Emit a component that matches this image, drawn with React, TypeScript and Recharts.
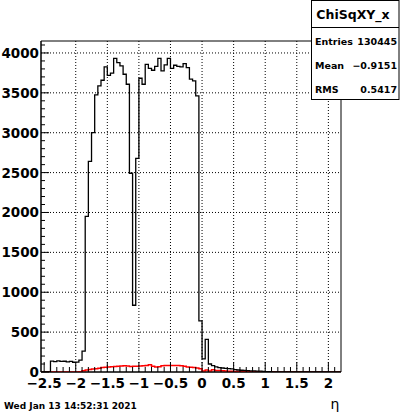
import { ComposedChart, Line, XAxis, YAxis, ReferenceLine, ReferenceArea } from "recharts";

// histogram ChiSqXY_x, 0.05 wide bins starting at -2.55
const xMin = -2.55;
const xMax = 2.2;
const binWidth = 0.05;
const yMax = 4150;

const blackCounts = [
  0, 0, 0,
  137, 129, 140, 132, 135, 128, 132, 122, 125, 150,
  262,
  1950, 2642, 3000, 3475, 3587, 3658, 3825, 3720, 3746, 3933, 3879, 3837, 3733, 3608,
  2492, 837, 2679,
  3683, 3608, 3858, 3808, 3783, 3833, 3933, 3775, 3850, 3933, 3808, 3846, 3833, 3825, 3866, 3816, 3671, 3650, 3462,
  642, 165, 408,
  100, 80, 65, 55, 50, 45, 42, 38, 30, 25, 22, 20, 18, 15, 15, 12, 10, 8, 5, 3, 2, 1,
  0, 0, 0, 0, 0, 0, 0, 0, 0, 0, 0, 0, 0, 0, 0, 0, 0, 0, 0, 0,
];

const redCounts = [
  0, 0, 0, 0, 0, 0, 0, 0, 0, 0, 0, 0,
  3,
  17, 25, 30, 37, 42, 46, 55, 58, 62, 65, 68, 71, 75, 79, 75, 70, 71, 72,
  74, 78, 83, 92, 71, 62, 65, 79, 83, 83, 82, 83, 80, 78, 72, 62, 60, 55, 50, 40,
  12, 25, 12, 29, 20, 18, 15, 12, 10, 8, 6, 5,
  4, 4, 3, 3, 3, 3, 2, 2, 2, 2, 2, 1,
  0, 0, 0, 0, 0, 0, 0, 0, 0, 0, 0, 0, 0, 0, 0, 0, 0, 0, 0, 0,
];

const xMajor = [-2.5, -2, -1.5, -1, -0.5, 0, 0.5, 1, 1.5, 2];
const xLabels = ["\u22122.5", "\u22122", "\u22121.5", "\u22121", "\u22120.5", "0", "0.5", "1", "1.5", "2"];
const xGrid = [-2, -1.5, -1, -0.5, 0, 0.5, 1, 1.5, 2];

const yMajor = [0, 500, 1000, 1500, 2000, 2500, 3000, 3500, 4000];
const yLabels = ["0", "500", "1000", "1500", "2000", "2500", "3000", "3500", "4000"];

const stats = [
  { name: "Entries", value: "130445" },
  { name: "Mean", value: "\u22120.9151" },
  { name: "RMS", value: "0.5417" },
];

const edges = blackCounts.map((_, i) => +(xMin + i * binWidth).toFixed(2));
const data = edges.map((x, i) => ({ x, black: blackCounts[i], red: redCounts[i] }));
data.push({ x: xMax, black: blackCounts[blackCounts.length - 1], red: redCounts[redCounts.length - 1] });

const xTicks: number[] = [];
for (let k = -25; k <= 21; k++) xTicks.push(k / 10);
const yTicks: number[] = [];
for (let k = 0; k <= 41; k++) yTicks.push(k * 100);

const font = "'DejaVu Sans', sans-serif";

const XTick = (props: any) => {
  const { x, y, payload } = props;
  const idx = xMajor.findIndex((m) => Math.abs(m - payload.value) < 1e-6);
  const major = idx >= 0;
  return (
    <g>
      <line x1={x} x2={x} y1={y} y2={y - (major ? 10 : 5)} stroke="#000" />
      {major && (
        <text x={x} y={y + 16} textAnchor="middle" fontFamily={font} fontWeight="bold" fontSize={13.5} fill="#000">
          {xLabels[idx]}
        </text>
      )}
    </g>
  );
};

const YTick = (props: any) => {
  const { x, y, payload } = props;
  const idx = yMajor.indexOf(payload.value);
  const major = idx >= 0;
  return (
    <g>
      <line x1={x} x2={x + (major ? 8 : 4)} y1={y} y2={y} stroke="#000" />
      {major && (
        <text x={x - 2} y={y + 5} textAnchor="end" fontFamily={font} fontWeight="bold" fontSize={13.5} fill="#000">
          {yLabels[idx]}
        </text>
      )}
    </g>
  );
};

export default function App() {
  return (
    <div style={{ position: "absolute", left: 0, top: 0, width: 400, height: 414, background: "#fff" }}>
      <ComposedChart width={400} height={414} data={data} margin={{ top: 41, right: 59, bottom: 0, left: 0 }}>
        {xGrid.map((g) => (
          <ReferenceLine key={"vx" + g} x={g} stroke="#000" strokeDasharray="1 2" />
        ))}
        {yMajor.slice(1).map((g) => (
          <ReferenceLine key={"hy" + g} y={g} stroke="#000" strokeDasharray="1 2" />
        ))}
        <ReferenceArea x1={xMin} x2={xMax} y1={0} y2={yMax} fill="none" stroke="#000" fillOpacity={0} />
        <XAxis
          dataKey="x"
          type="number"
          domain={[xMin, xMax]}
          ticks={xTicks}
          interval={0}
          height={42}
          tickSize={0}
          tickMargin={0}
          tickLine={false}
          axisLine={{ stroke: "#000" }}
          tick={<XTick />}
          allowDataOverflow
        />
        <YAxis
          type="number"
          domain={[0, yMax]}
          ticks={yTicks}
          interval={0}
          width={41}
          tickSize={0}
          tickMargin={0}
          tickLine={false}
          axisLine={{ stroke: "#000" }}
          tick={<YTick />}
          allowDataOverflow
        />
        <Line type="stepAfter" dataKey="red" stroke="#ff0000" strokeWidth={1.5} dot={false} isAnimationActive={false} />
        <Line type="stepAfter" dataKey="black" stroke="#000" strokeWidth={1.3} dot={false} isAnimationActive={false} />
      </ComposedChart>
      <svg width={400} height={414} style={{ position: "absolute", left: 0, top: 0, pointerEvents: "none" }}>
        <rect x={311.5} y={0.5} width={87.5} height={99} fill="#fff" stroke="#000" />
        <line x1={311.5} x2={399} y1={27.5} y2={27.5} stroke="#000" />
        <text x={353} y={19} textAnchor="middle" fontFamily={font} fontWeight="bold" fontSize={12.5} fill="#000">
          ChiSqXY_x
        </text>
        {stats.map((s, i) => (
          <g key={s.name}>
            <text x={315} y={45 + i * 24} fontFamily={font} fontWeight="bold" fontSize={9.5} fill="#000">
              {s.name}
            </text>
            <text x={397} y={45 + i * 24} textAnchor="end" fontFamily={font} fontWeight="bold" fontSize={9.5} fill="#000">
              {s.value}
            </text>
          </g>
        ))}
        <text x={4} y={409} fontFamily={font} fontWeight="bold" fontSize={9} fill="#000">
          Wed Jan 13 14:52:31 2021
        </text>
        <text x={335} y={409} textAnchor="middle" fontFamily={font} fontSize={14} fill="#000">
          η
        </text>
      </svg>
    </div>
  );
}
